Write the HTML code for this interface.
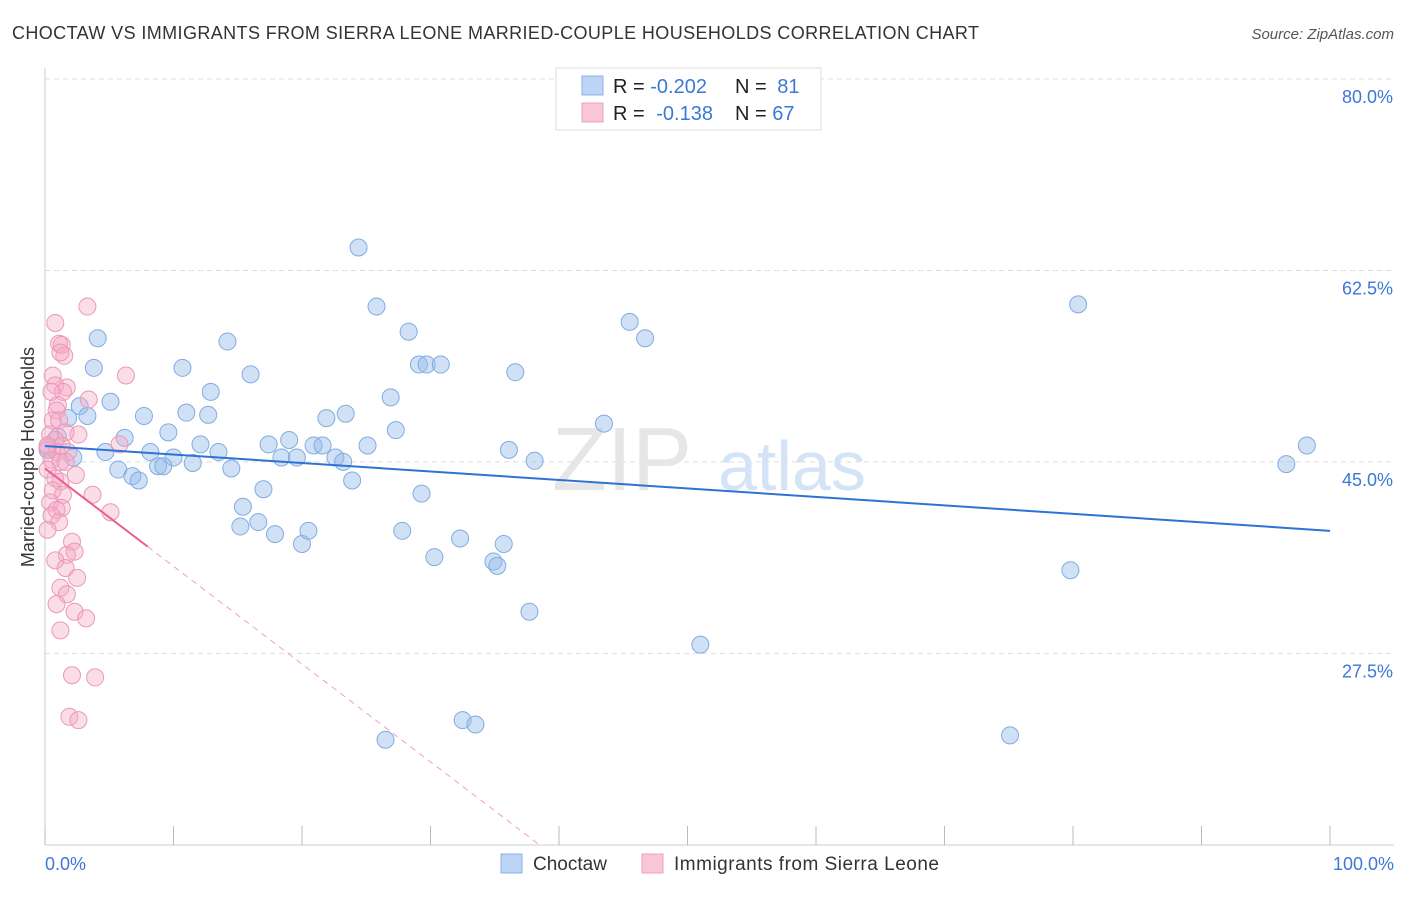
<!DOCTYPE html>
<html><head><meta charset="utf-8"><style>
body{margin:0;background:#fff;font-family:"Liberation Sans",sans-serif;}
svg text{font-family:"Liberation Sans",sans-serif;}
</style></head><body>
<svg id="chart" width="1406" height="892" viewBox="0 0 1406 892" xmlns="http://www.w3.org/2000/svg">
<text x="12" y="39" font-size="18" fill="#333" textLength="967">CHOCTAW VS IMMIGRANTS FROM SIERRA LEONE MARRIED-COUPLE HOUSEHOLDS CORRELATION CHART</text>
<text x="1394" y="39" font-size="15" fill="#555" text-anchor="end" font-style="italic">Source: ZipAtlas.com</text>
<g id="grid"></g>
<g><text x="552" y="490" font-size="90" fill="#e6e6e6" font-family="Liberation Serif">ZIP</text><text x="718" y="490" font-size="70" fill="#d4e3f5">atlas</text></g>
<line x1="45" y1="68" x2="45" y2="845" stroke="#ccc"/>
<line x1="45" y1="845" x2="1394" y2="845" stroke="#ccc"/>
<g id="xticks"></g>
<g id="pts"></g>
<g id="trends"></g>
<text x="45" y="870" font-size="18" fill="#3b78d8">0.0%</text>
<text x="1394" y="870" font-size="18" fill="#3b78d8" text-anchor="end">100.0%</text>
<text transform="translate(34,457) rotate(-90)" font-size="18" fill="#333" text-anchor="middle">Married-couple Households</text>
<g>
<rect x="556" y="68" width="265" height="62" fill="#fff" stroke="#ddd"/>
<rect x="582" y="76" width="21" height="19" fill="#bcd4f5" stroke="#8ab0e6"/>
<rect x="582" y="103" width="21" height="19" fill="#f9c6d6" stroke="#eda0bb"/>
<text x="613" y="93" font-size="20" fill="#222">R = <tspan fill="#3b78d8">-0.202</tspan></text>
<text x="735" y="93" font-size="20" fill="#222">N = <tspan fill="#3b78d8" dx="5">81</tspan></text>
<text x="613" y="120" font-size="20" fill="#222">R = <tspan fill="#3b78d8" dx="6">-0.138</tspan></text>
<text x="735" y="120" font-size="20" fill="#222">N = <tspan fill="#3b78d8">67</tspan></text>
</g>
<g>
<rect x="501" y="854" width="21" height="19" fill="#bcd4f5" stroke="#8ab0e6"/>
<text x="533" y="870" font-size="19" fill="#333">Choctaw</text>
<rect x="642" y="854" width="21" height="19" fill="#f9c6d6" stroke="#eda0bb"/>
<text x="674" y="870" font-size="19" fill="#333" textLength="265">Immigrants from Sierra Leone</text>
</g>
</svg>
<script>
const yTicks=[80,62.5,45,27.5];
const xTicks=[0,10,20,30,40,50,60,70,80,90,100];
const blueX=[24.4,25.8,80.4,45.5,46.7,4.1,14.2,28.3,3.8,10.7,16.0,29.1,29.7,30.8,36.6,12.9,26.9,5.1,2.7,3.3,7.7,11.0,12.7,21.9,23.4,27.3,6.2,9.6,43.5,98.2,4.7,8.2,10.0,12.1,13.5,17.4,19.0,18.4,19.6,20.9,21.6,22.6,23.2,25.1,36.1,38.1,96.6,5.7,6.8,7.3,8.8,9.2,11.5,14.5,23.9,17.0,29.3,15.4,15.2,16.6,17.9,20.0,20.5,27.8,32.3,35.7,30.3,34.9,35.2,79.8,37.7,51.0,32.5,33.5,26.5,75.1,2.2,1.8,1.0,0.2];
const blueY=[64.6,59.2,59.4,57.8,56.3,56.3,56.0,56.9,53.6,53.6,53.0,53.9,53.9,53.9,53.2,51.4,50.9,50.5,50.1,49.2,49.2,49.5,49.3,49.0,49.4,47.9,47.2,47.7,48.5,46.5,45.9,45.9,45.4,46.6,45.9,46.6,47.0,45.4,45.4,46.5,46.5,45.4,45.0,46.5,46.1,45.1,44.8,44.3,43.7,43.3,44.6,44.6,44.9,44.4,43.3,42.5,42.1,40.9,39.1,39.5,38.4,37.5,38.7,38.7,38.0,37.5,36.3,35.9,35.5,35.1,31.3,28.3,21.4,21.0,19.6,20.0,45.4,49.0,47.3,46.1];
const pinkX=[3.3,0.8,1.1,1.3,1.5,1.2,6.3,0.6,0.8,1.7,1.4,3.4,0.5,1.0,0.9,0.6,1.1,2.6,1.6,0.4,0.8,1.3,0.2,0.9,1.8,0.5,1.2,1.6,0.2,2.4,0.8,1.2,3.7,0.6,1.4,0.4,1.3,0.9,5.1,5.8,0.5,1.1,0.2,2.1,2.3,1.7,0.8,1.6,2.5,1.2,1.7,0.9,2.3,3.2,1.2,2.1,3.9,1.9,2.6,0.2];
const pinkY=[59.2,57.7,55.8,55.7,54.7,55.0,52.9,52.9,52.0,51.8,51.4,50.7,51.4,50.2,49.7,48.8,48.8,47.5,47.7,47.5,47.0,46.5,46.3,45.9,45.9,45.2,45.0,45.0,44.3,43.8,43.5,43.2,42.0,42.4,42.0,41.3,40.8,40.6,40.4,46.6,40.1,39.5,38.8,37.7,36.8,36.5,36.0,35.3,34.4,33.5,32.9,32.0,31.3,30.7,29.6,25.5,25.3,21.7,21.4,46.5];
const blueTrend=[46.45,38.7];
const pinkTrend=[44.4,-0.894];
const pinkSolidEnd=8;
const NS='http://www.w3.org/2000/svg';
const sx=v=>45+v*12.85;
const sy=v=>79+(80-v)*10.94;
function mk(t,a,p){const e=document.createElementNS(NS,t);for(const k in a)e.setAttribute(k,a[k]);p.appendChild(e);return e;}
const grid=document.getElementById('grid');
yTicks.forEach(v=>{
 const l=mk('line',{x1:45,x2:1394,y1:sy(v),y2:sy(v),stroke:'#ddd','stroke-dasharray':'5,4'},grid);
 
 
 const t=mk('text',{x:1393,y:sy(v)+24,'font-size':18,fill:'#3b78d8','text-anchor':'end'},grid);
 t.textContent=v.toFixed(1)+'%';
 
 
});
const xt=document.getElementById('xticks');
xTicks.forEach(v=>{
 const l=mk('line',{x1:sx(v),x2:sx(v),y1:826,y2:845,stroke:'#bbb'},xt);
 
 
});
const pts=document.getElementById('pts');
blueX.forEach((x,i)=>{
 const c=mk('circle',{cx:sx(x),cy:sy(blueY[i]),r:8.5,fill:'rgba(150,188,236,0.45)',stroke:'#80ace2','stroke-width':1},pts);
 
 
});
pinkX.forEach((x,i)=>{
 const c=mk('circle',{cx:sx(x),cy:sy(pinkY[i]),r:8.5,fill:'rgba(245,170,198,0.4)',stroke:'#eb98b7','stroke-width':1},pts);
 
 
});
const tr=document.getElementById('trends');
const bl=mk('line',{x1:sx(0),y1:sy(blueTrend[0]),x2:sx(100),y2:sy(blueTrend[1]),stroke:'#2f72d6','stroke-width':2},tr);


const pf=x=>pinkTrend[0]+pinkTrend[1]*x;
const pl=mk('line',{x1:sx(0),y1:sy(pf(0)),x2:sx(pinkSolidEnd),y2:sy(pf(pinkSolidEnd)),stroke:'#e8608f','stroke-width':2},tr);


const xEnd=(10-pinkTrend[0])/pinkTrend[1];
const pd=mk('line',{x1:sx(pinkSolidEnd),y1:sy(pf(pinkSolidEnd)),x2:sx(xEnd),y2:sy(10),stroke:'#f0a0bc','stroke-width':1,'stroke-dasharray':'6,5'},tr);


</script>
</body></html>
